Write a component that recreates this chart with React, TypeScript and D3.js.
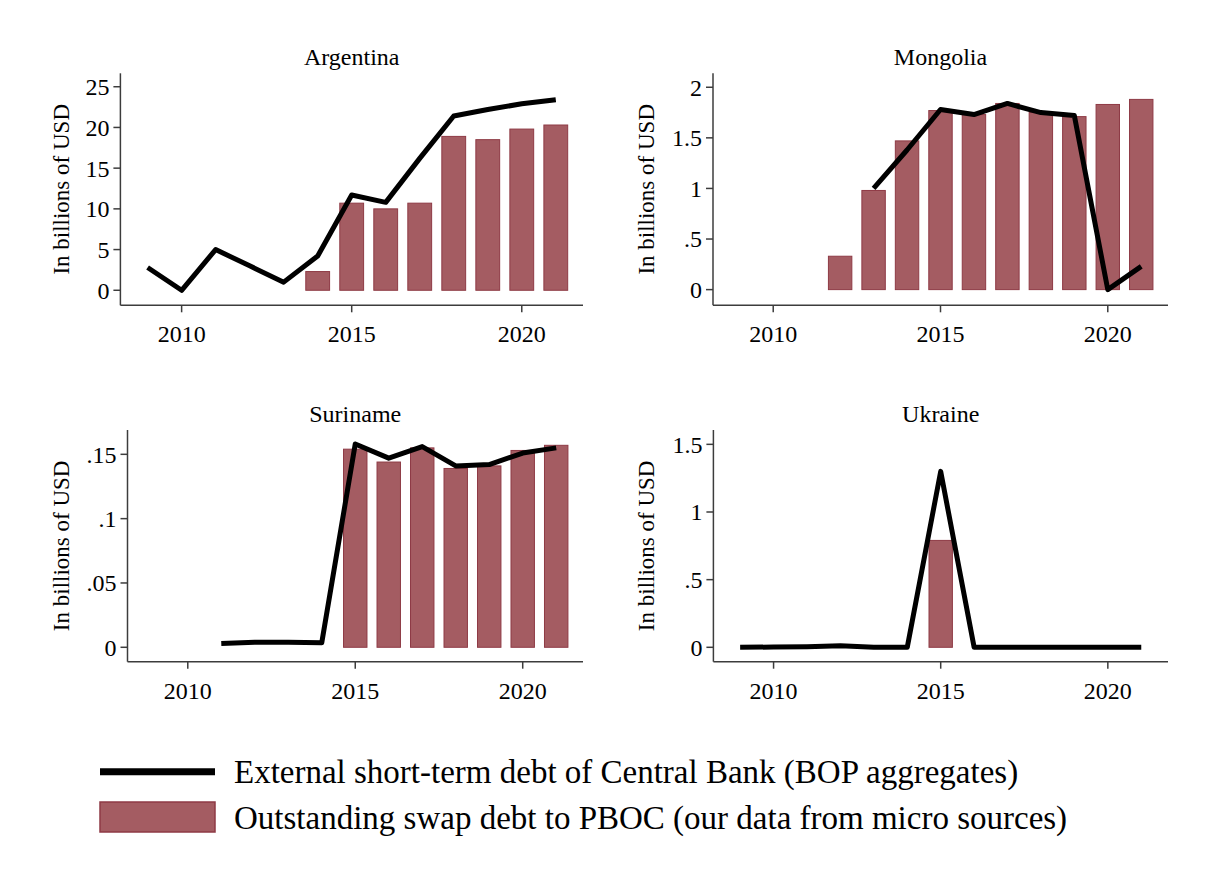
import * as d3 from "d3";

const years = [2009, 2010, 2011, 2012, 2013, 2014, 2015, 2016, 2017, 2018, 2019, 2020, 2021];
const xTicks = [2010, 2015, 2020];

// black line: external short-term debt of central bank (null = no data)
const argentinaLine = [2.8, 0, 5.0, 3.0, 1.0, 4.2, 11.7, 10.8, 16.2, 21.4, 22.2, 22.9, 23.4];
const mongoliaLine = [null, null, null, null, 1.0, 1.38, 1.78, 1.73, 1.84, 1.75, 1.72, 0, 0.23];
const surinameLine = [null, null, 0.003, 0.004, 0.004, 0.0035, 0.158, 0.147, 0.156, 0.141, 0.142, 0.151, 0.155];
const ukraineLine = [0, 0.002, 0.005, 0.012, 0, 0, 1.3, 0, 0, 0, 0, 0, 0];

// bars: outstanding swap debt to PBOC
const argentinaBars = [null, null, null, null, null, 2.3, 10.7, 10.0, 10.7, 18.9, 18.5, 19.8, 20.3];
const mongoliaBars = [null, null, null, 0.33, 0.98, 1.47, 1.77, 1.73, 1.84, 1.75, 1.71, 1.83, 1.88];
const surinameBars = [null, null, null, null, null, null, 0.154, 0.144, 0.155, 0.139, 0.141, 0.153, 0.157];
const ukraineBars = [null, null, null, null, null, null, 0.79, null, null, null, null, null, null];

const argentinaTicks = [0, 5, 10, 15, 20, 25];
const argentinaTickLabels = ["0", "5", "10", "15", "20", "25"];
const mongoliaTicks = [0, 0.5, 1, 1.5, 2];
const mongoliaTickLabels = ["0", ".5", "1", "1.5", "2"];
const surinameTicks = [0, 0.05, 0.1, 0.15];
const surinameTickLabels = ["0", ".05", ".1", ".15"];
const ukraineTicks = [0, 0.5, 1, 1.5];
const ukraineTickLabels = ["0", ".5", "1", "1.5"];

const legendLabels = [
  "External short-term debt of Central Bank (BOP aggregates)",
  "Outstanding swap debt to PBOC (our data from micro sources)",
];

const W = 1212;
const H = 876;
const FONT = "'Liberation Serif', 'Times New Roman', serif";
const BAR_FILL = "#a45c62";
const BAR_STROKE = "#8e3a45";
const AXIS = "#3c3c3c";

const panels = [
  { title: "Argentina", line: argentinaLine, bars: argentinaBars, ticks: argentinaTicks, labels: argentinaTickLabels, yDom: [-1.845, 26.65], axisX: 120.4, col: 0, row: 0 },
  { title: "Mongolia", line: mongoliaLine, bars: mongoliaBars, ticks: mongoliaTicks, labels: mongoliaTickLabels, yDom: [-0.155, 2.138], axisX: 713, col: 1, row: 0 },
  { title: "Suriname", line: surinameLine, bars: surinameBars, ticks: surinameTicks, labels: surinameTickLabels, yDom: [-0.0112, 0.1689], axisX: 127.5, col: 0, row: 1 },
  { title: "Ukraine", line: ukraineLine, bars: ukraineBars, ticks: ukraineTicks, labels: ukraineTickLabels, yDom: [-0.1064, 1.606], axisX: 713.4, col: 1, row: 1 },
];

const Panel = ({ p }: { p: (typeof panels)[number] }) => {
  const rowTop = p.row === 0 ? 73.3 : 430;
  const rowBottom = p.row === 0 ? 305.3 : 661.7;
  const right = p.col === 0 ? 583 : 1168;
  const labelX = p.col === 0 ? 68.6 : 653.9;

  const x = d3.scaleLinear().domain([2008.2, 2021.8]).range([p.axisX, right]);
  const y = d3.scaleLinear().domain(p.yDom).range([rowBottom, rowTop]);
  const bw = x(2010.7) - x(2010);

  const pts = years.map((yr, i) => [yr, p.line[i]] as [number, number | null]);
  const path = d3
    .line<[number, number | null]>()
    .defined((d) => d[1] != null)
    .x((d) => x(d[0]))
    .y((d) => y(d[1] as number))(pts);

  return (
    <g>
      <text x={(p.axisX + right) / 2} y={rowTop - 8} textAnchor="middle" fontSize={24} fontFamily={FONT}>
        {p.title}
      </text>
      <text
        transform={`translate(${labelX},${(rowTop + rowBottom) / 2}) rotate(-90)`}
        textAnchor="middle"
        fontSize={23}
        fontFamily={FONT}
      >
        In billions of USD
      </text>
      {years.map((yr, i) =>
        p.bars[i] == null ? null : (
          <rect
            key={yr}
            x={x(yr) - bw / 2}
            y={y(p.bars[i] as number)}
            width={bw}
            height={y(0) - y(p.bars[i] as number)}
            fill={BAR_FILL}
            stroke={BAR_STROKE}
            strokeWidth={1}
          />
        )
      )}
      <path d={path ?? ""} fill="none" stroke="#000" strokeWidth={5} strokeLinejoin="round" />
      <line x1={p.axisX} x2={p.axisX} y1={rowTop} y2={rowBottom} stroke={AXIS} strokeWidth={1.5} />
      <line x1={p.axisX} x2={right} y1={rowBottom} y2={rowBottom} stroke={AXIS} strokeWidth={1.5} />
      {p.ticks.map((t, i) => (
        <g key={t}>
          <line x1={p.axisX - 7} x2={p.axisX} y1={y(t)} y2={y(t)} stroke={AXIS} strokeWidth={1.5} />
          <text x={p.axisX - 11} y={y(t)} dy="0.35em" textAnchor="end" fontSize={24} fontFamily={FONT}>
            {p.labels[i]}
          </text>
        </g>
      ))}
      {xTicks.map((t) => (
        <g key={t}>
          <line x1={x(t)} x2={x(t)} y1={rowBottom} y2={rowBottom + 7} stroke={AXIS} strokeWidth={1.5} />
          <text x={x(t)} y={rowBottom + 37} textAnchor="middle" fontSize={24} fontFamily={FONT}>
            {t}
          </text>
        </g>
      ))}
    </g>
  );
};

export default function App() {
  return (
    <svg width={W} height={H} style={{ position: "absolute", left: 0, top: 0, background: "#fff" }}>
      <rect width={W} height={H} fill="#fff" />
      {panels.map((p) => (
        <Panel key={p.title} p={p} />
      ))}
      <line x1={100} x2={215} y1={771.7} y2={771.7} stroke="#000" strokeWidth={7} />
      <text x={234} y={783} fontSize={33} fontFamily={FONT}>
        {legendLabels[0]}
      </text>
      <rect x={100} y={802} width={115} height={30} fill={BAR_FILL} stroke={BAR_STROKE} strokeWidth={1.5} />
      <text x={234} y={829} fontSize={33} fontFamily={FONT}>
        {legendLabels[1]}
      </text>
    </svg>
  );
}
